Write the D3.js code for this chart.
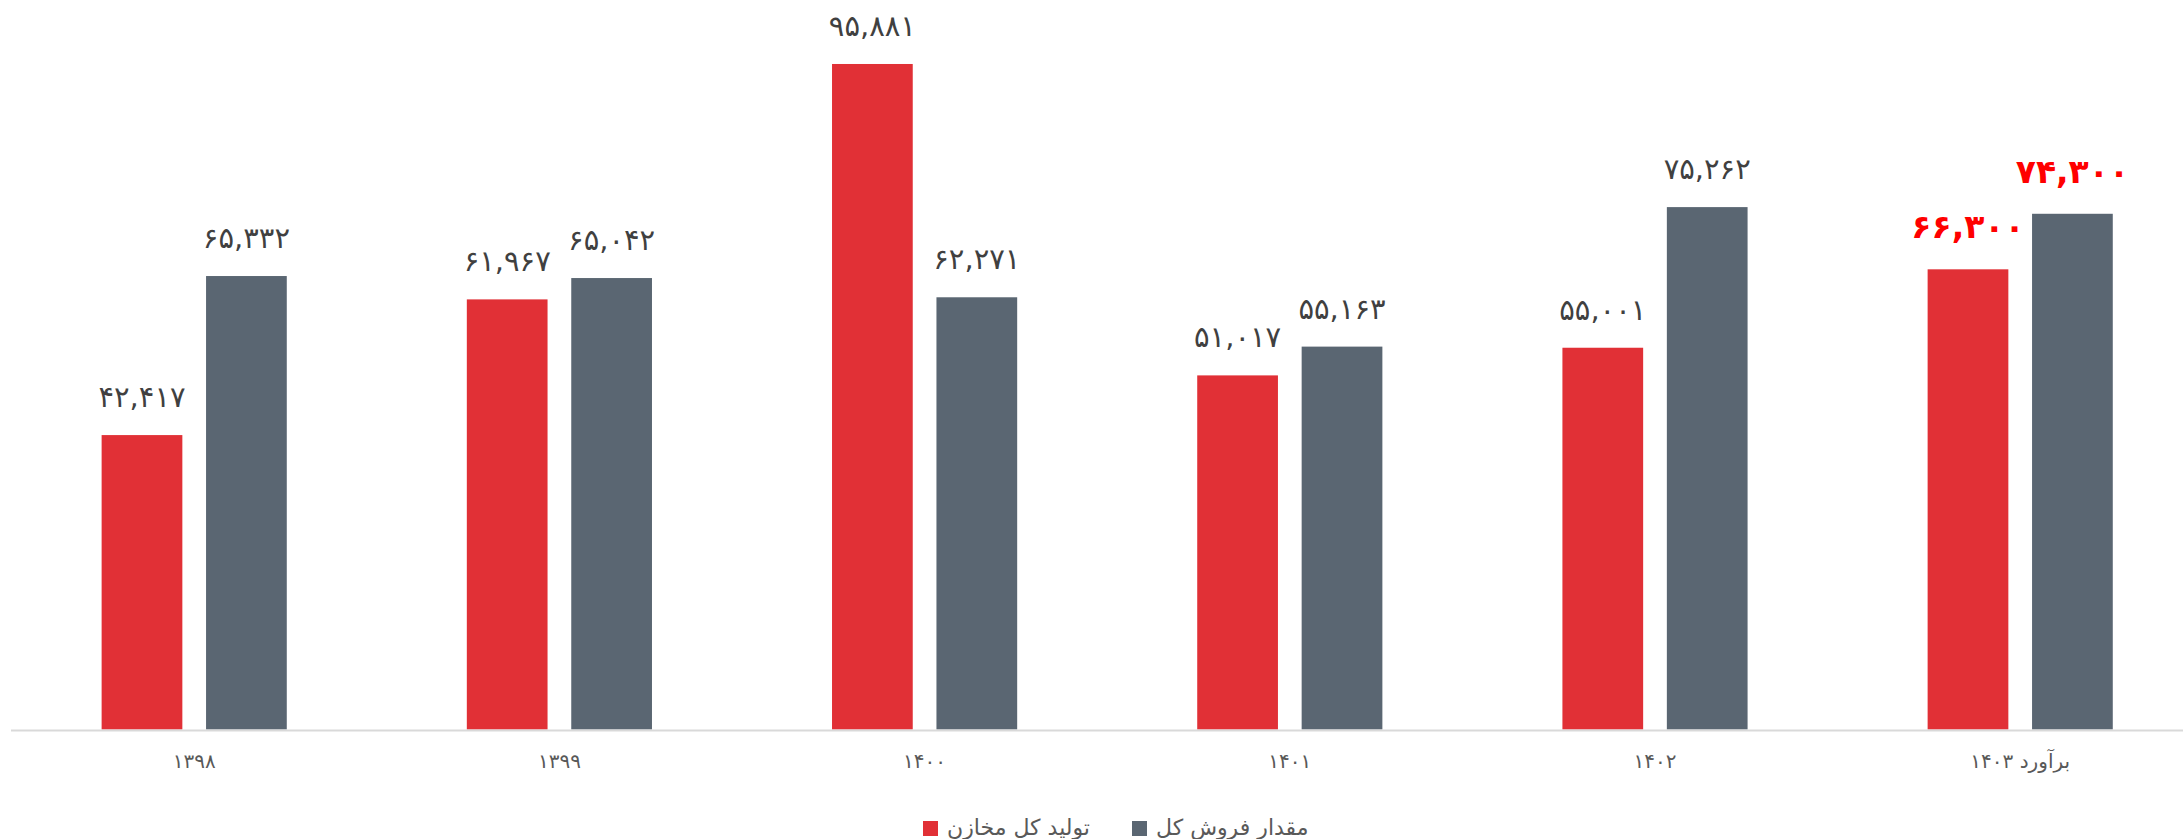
<!DOCTYPE html>
<html>
<head>
<meta charset="utf-8">
<script src="https://d3js.org/d3.v7.min.js"></script>
<style>
  body { margin: 0; background: #ffffff; }
  #my_dataviz { width: 2183px; height: 839px; }
</style>
</head>
<body>
<div id="my_dataviz"></div>
<script>

// data
const years = ["۱۳۹۸", "۱۳۹۹", "۱۴۰۰", "۱۴۰۱", "۱۴۰۲", "برآورد ۱۴۰۳"]
const production = [42417, 61967, 95881, 51017, 55001, 66300]   // تولید کل مخازن
const sales = [65332, 65042, 62271, 55163, 75262, 74300]        // مقدار فروش کل
const seriesNames = ["تولید کل مخازن", "مقدار فروش کل"]
const estimateYear = "برآورد ۱۴۰۳"

const redColor = "#E13036"
const grayColor = "#5A6672"

const width = 2183,
  height = 839;

var svg = d3.select("#my_dataviz")
  .append("svg")
  .attr("width", width)
  .attr("height", height)
  .style("font-family", "'DejaVu Sans', sans-serif")

// persian digits
function toFa(s) {
  return String(s).replace(/[0-9]/g, d => "۰۱۲۳۴۵۶۷۸۹"[+d])
}
const fmt = d3.format(",")

// build rows
var data = years.map((y, i) => ({ year: y, prod: production[i], sale: sales[i] }))
const subgroups = ["prod", "sale"]

// X axis
var xScale = d3.scaleBand()
  .domain(years)
  .range([11.6, 2202.8])
  .paddingInner(0.493)
  .paddingOuter(0.2465)

var xSub = d3.scaleBand()
  .domain(subgroups)
  .range([0, xScale.bandwidth()])
  .paddingInner(0.227)

// Y axis (no visible axis in the picture)
var yScale = d3.scaleLinear()
  .domain([0, 105100])
  .range([729.5, 0])

const color = d3.scaleOrdinal()
  .domain(subgroups)
  .range([redColor, grayColor])

// bars
var groups = svg.append("g")
  .selectAll("g")
  .data(data)
  .join("g")
  .attr("transform", d => `translate(${xScale(d.year)},0)`)

groups.selectAll("rect")
  .data(d => subgroups.map(k => ({ key: k, value: d[k], year: d.year })))
  .join("rect")
  .attr("x", d => xSub(d.key))
  .attr("y", d => yScale(d.value))
  .attr("width", xSub.bandwidth())
  .attr("height", d => yScale(0) - yScale(d.value))
  .attr("fill", d => color(d.key))

// value labels
groups.selectAll("text")
  .data(d => subgroups.map(k => ({ key: k, value: d[k], year: d.year })))
  .join("text")
  .attr("x", d => xSub(d.key) + xSub.bandwidth() / 2)
  .attr("y", d => yScale(d.value) - (d.year == estimateYear ? 31 : 28))
  .attr("text-anchor", "middle")
  .style("font-size", d => d.year == estimateYear ? "33px" : "29px")
  .style("font-weight", d => d.year == estimateYear ? "bold" : "normal")
  .style("fill", d => d.year == estimateYear ? "#FF0000" : "#404040")
  .text(d => toFa(fmt(d.value)))

// x axis line + labels
var xAxis = svg.append("g")
  .attr("transform", `translate(0, ${yScale(0)})`)
  .call(d3.axisBottom(xScale).tickSize(0).tickPadding(24))

xAxis.select(".domain")
  .attr("d", "M11,1H2183")
  .attr("stroke", "#D9D9D9")
  .attr("stroke-width", 2)

xAxis.selectAll("text")
  .style("font-size", "20px")
  .style("font-family", "'DejaVu Sans', sans-serif")
  .style("fill", "#595959")

// Legends
var legend = svg.append("g")
  .attr("transform", "translate(923, 829)")

var legendX = [0, 209]
seriesNames.forEach(function (name, i) {
  legend.append("rect")
    .attr("x", legendX[i])
    .attr("y", -8)
    .attr("width", 15)
    .attr("height", 15)
    .style("fill", color(subgroups[i]))
  legend.append("text")
    .attr("x", legendX[i] + 24)
    .attr("y", 0)
    .attr("dominant-baseline", "middle")
    .style("font-size", "22px")
    .style("fill", "#595959")
    .text(name)
})

</script>
</body>
</html>
